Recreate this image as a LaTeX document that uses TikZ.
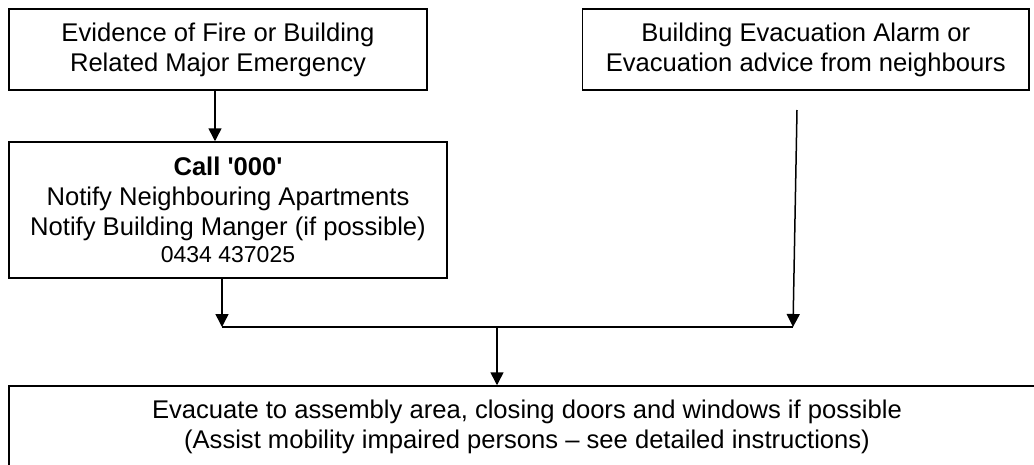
\documentclass[tikz,border=0pt]{standalone}
\usepackage{fontspec}
\setmainfont{Liberation Sans}
\usetikzlibrary{arrows.meta, positioning}

\begin{document}
\begin{tikzpicture}[x=1pt, y=-1pt]

\tikzset{
  box/.style={rectangle, draw, line width=1.5pt, align=center, inner sep=0pt,
    font=\fontsize{25.6}{30}\selectfont},
  flow/.style={-{Triangle[width=13pt, length=13pt]}, line width=1.5pt},
  link/.style={line width=1.5pt}
}

% --- Rahmen ---
\useasboundingbox (0,0) rectangle (1034,464);

% --- Kaesten (mit absoluten Koordinaten) ---
\node[box, minimum width=418pt, minimum height=81pt] (evidence) at (218,49.5)
  {Evidence of Fire or Building\\Related Major Emergency};
\node[box, minimum width=446.5pt, minimum height=81pt] (alarm) at (805.75,49.5)
  {Building Evacuation Alarm or\\Evacuation advice from neighbours};
\node[box, minimum width=438pt, minimum height=136pt] (call) at (228,210)
  {\textbf{Call \textquotesingle000\textquotesingle}\\Notify Neighbouring Apartments\\Notify Building Manger (if possible)\\[-3pt]
   {\fontsize{23}{27}\selectfont 0434 437025}};
\node[box, minimum width=1036pt, minimum height=82pt] (evac) at (527,427)
  {Evacuate to assembly area, closing doors and windows if possible\\(Assist mobility impaired persons -- see detailed instructions)};

% --- Knotenpunkte ---
\coordinate (jl) at (222,327);
\coordinate (jr) at (793,327);
\coordinate (jm) at (497,327);
\coordinate (top) at (797,110);

% --- Kanten ---
\draw[flow] ([xshift=-3pt]evidence.south) -- ([xshift=-3pt]evidence.south |- call.north);
\draw[flow] ([xshift=-6pt]call.south) -- (jl);
\draw[flow] (top) -- (jr);
\draw[link] (jl) -- (jr);
\draw[flow] (jm) -- (jm |- evac.north);

\end{tikzpicture}
\end{document}
